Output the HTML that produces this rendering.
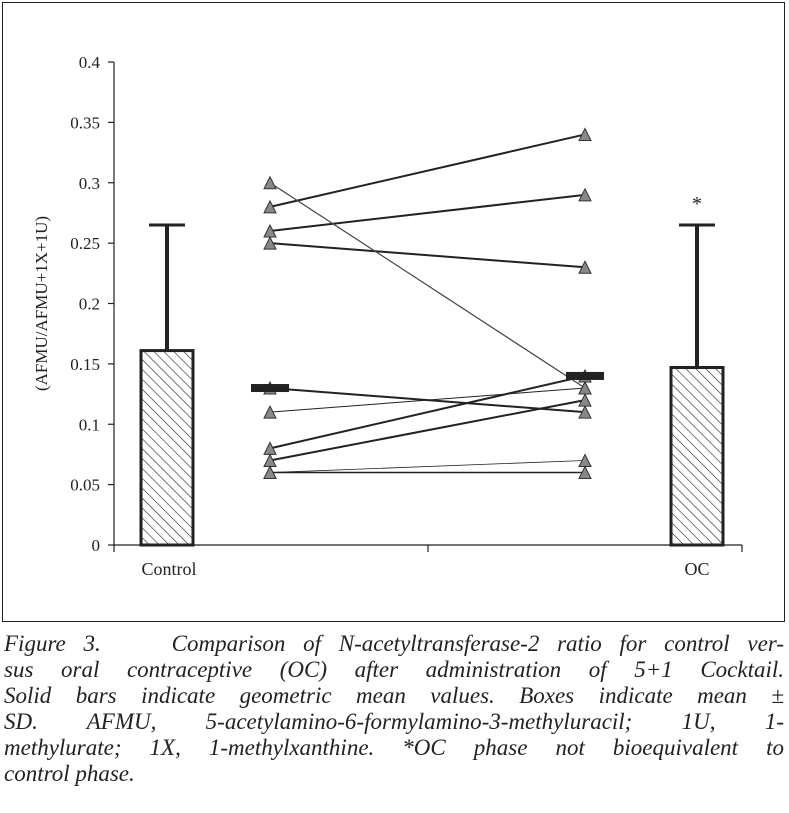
<!DOCTYPE html>
<html><head><meta charset="utf-8">
<style>
html,body{margin:0;padding:0;background:#fff;}
body{width:789px;height:813px;position:relative;overflow:hidden;}
#frame{position:absolute;left:2px;top:2px;width:783px;height:620px;border:1.5px solid #222;box-sizing:border-box;}
svg{position:absolute;left:0;top:0;}
.cap{position:absolute;left:4px;width:780px;font-family:"Liberation Serif",serif;font-style:italic;font-size:23px;line-height:26px;color:#222;text-align:justify;text-align-last:justify;white-space:nowrap;}
.cap.last{text-align-last:left;}
</style></head><body>
<div id="frame"></div>
<svg id="chart" width="789" height="625">
<defs><pattern id="hatch" patternUnits="userSpaceOnUse" width="7" height="7" patternTransform="rotate(-45)">
<line x1="0" y1="0" x2="0" y2="7" stroke="#222" stroke-width="1.2"/></pattern></defs>
</svg>
<div class="cap" style="top:631px">Figure 3.&nbsp;&nbsp;&nbsp; Comparison of N-acetyltransferase-2 ratio for control ver-</div>
<div class="cap" style="top:657px">sus oral contraceptive (OC) after administration of 5+1 Cocktail.</div>
<div class="cap" style="top:683px">Solid bars indicate geometric mean values. Boxes indicate mean ±</div>
<div class="cap" style="top:709px">SD. AFMU, 5-acetylamino-6-formylamino-3-methyluracil; 1U, 1-</div>
<div class="cap" style="top:735px">methylurate; 1X, 1-methylxanthine. *OC phase not bioequivalent to</div>
<div class="cap last" style="top:761px">control phase.</div>
<script>
const yTicks=[0,0.05,0.1,0.15,0.2,0.25,0.3,0.35,0.4];
const tickLabels=["0","0.05","0.1","0.15","0.2","0.25","0.3","0.35","0.4"];
const barCategories=["Control","OC"];
const barMeans=[0.161,0.147];
const barSD=[0.104,0.118];
const controlValues=[0.28,0.26,0.25,0.30,0.13,0.11,0.08,0.07,0.06,0.06];
const ocValues=[0.34,0.29,0.23,0.13,0.11,0.13,0.14,0.12,0.07,0.06];
const lineWeights=[2,2,2,1.2,2,1,2,2,0.8,1.5];
const geoMeans=[0.13,0.14];

const svg=document.getElementById('chart');
const NS='http://www.w3.org/2000/svg';
const y0=545,yScale=1207.5;
function Y(v){return y0-v*yScale;}
const barX=[167,697],barW=54,ptX=[270,585];
function el(tag,attrs){const e=document.createElementNS(NS,tag);for(const k in attrs)e.setAttribute(k,attrs[k]);svg.appendChild(e);return e;}

let a=el('line',{x1:114,y1:Y(0.4),x2:114,y2:y0,stroke:'#222','stroke-width':1.2});


a=el('line',{x1:114,y1:y0,x2:742,y2:y0,stroke:'#222','stroke-width':1.2});


[114,428,742].forEach(x=>{const t=el('line',{x1:x,y1:y0,x2:x,y2:y0+7,stroke:'#222','stroke-width':1.2});

});
yTicks.forEach((v,i)=>{
 const t=el('line',{x1:108,y1:Y(v),x2:114,y2:Y(v),stroke:'#222','stroke-width':1.2});
 
 
 const tx=el('text',{x:100,y:Y(v)+6,'text-anchor':'end','font-family':'Liberation Serif, serif','font-size':17,fill:'#222'});
 tx.textContent=tickLabels[i];
 
 
});
let yt=el('text',{x:0,y:0,'text-anchor':'middle','font-family':'Liberation Serif, serif','font-size':17,fill:'#222',transform:'translate(47,'+Y(0.2)+') rotate(-90)'});
yt.textContent='(AFMU/AFMU+1X+1U)';



barCategories.forEach((c,i)=>{
 const cx=barX[i];
 const top=Y(barMeans[i]+barSD[i]);
 const s=el('line',{x1:cx,y1:top,x2:cx,y2:Y(barMeans[i]),stroke:'#222','stroke-width':4});
 
 
 const cap=el('line',{x1:cx-18,y1:top,x2:cx+18,y2:top,stroke:'#222','stroke-width':3});
 
 
 const r=el('rect',{x:cx-barW/2+1,y:Y(barMeans[i]),width:barW-2,height:y0-Y(barMeans[i]),fill:'url(#hatch)',stroke:'#222','stroke-width':3});
 
 
 const lb=el('text',{x:cx+(i==0?2:0),y:575,'text-anchor':'middle','font-family':'Liberation Serif, serif','font-size':18,fill:'#222'});
 lb.textContent=c;
 
 
});
let ast=el('text',{x:697,y:210,'text-anchor':'middle','font-family':'Liberation Serif, serif','font-size':20,fill:'#222'});
ast.textContent='*';



controlValues.forEach((v,i)=>{
 const l=el('line',{x1:ptX[0],y1:Y(v),x2:ptX[1],y2:Y(ocValues[i]),stroke:i==3?'#444':'#222','stroke-width':lineWeights[i]});
 
 
});
function tri(x,v){
 const y=Y(v);
 const p=el('polygon',{points:(x-6)+','+(y+6)+' '+(x+6)+','+(y+6)+' '+x+','+(y-6),fill:'#888',stroke:'#333','stroke-width':1});
 
 
}
controlValues.forEach(v=>tri(ptX[0],v));
ocValues.forEach(v=>tri(ptX[1],v));
geoMeans.forEach((v,i)=>{
 const r=el('rect',{x:ptX[i]-19,y:Y(v)-4,width:38,height:8,fill:'#222'});
 
 
});
</script>
</body></html>
